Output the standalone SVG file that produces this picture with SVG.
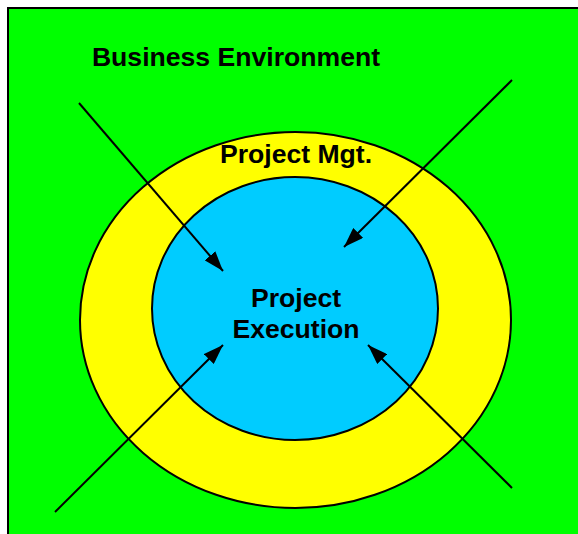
<svg xmlns="http://www.w3.org/2000/svg" width="578" height="534" viewBox="0 0 578 534">
<defs>
<style>
.lbl{font-family:"Liberation Sans",Arial,sans-serif;font-weight:bold;font-size:26.6px;fill:#000;text-anchor:middle}
.conn{stroke:#000;stroke-width:2;fill:none}
</style>
<marker id="ah" viewBox="0 0 20 14" refX="20" refY="7" markerWidth="20" markerHeight="14" markerUnits="userSpaceOnUse" orient="auto">
<path d="M0,0 L20,7 L0,14 Z" fill="#000"/>
</marker>
</defs>
<rect width="578" height="534" fill="#fff"/>
<g id="business-environment">
<rect x="8" y="8" width="580" height="540" fill="#00ff00" stroke="#000" stroke-width="2"/>
<text class="lbl" x="236" y="66">Business Environment</text>
</g>
<g id="project-mgt">
<ellipse cx="295.5" cy="320" rx="215.5" ry="188" fill="#ffff00" stroke="#000" stroke-width="2"/>
<text class="lbl" x="296" y="163">Project Mgt.</text>
</g>
<g id="project-execution">
<ellipse cx="295" cy="308.5" rx="143" ry="131.5" fill="#00ccff" stroke="#000" stroke-width="2"/>
<text class="lbl" x="296" y="307">Project</text>
<text class="lbl" x="296" y="338">Execution</text>
</g>
<g id="connectors">
<line class="conn" x1="79" y1="103" x2="223" y2="271" marker-end="url(#ah)"/>
<line class="conn" x1="512" y1="80" x2="344" y2="247" marker-end="url(#ah)"/>
<line class="conn" x1="55" y1="512" x2="223" y2="345" marker-end="url(#ah)"/>
<line class="conn" x1="512" y1="488" x2="368" y2="345" marker-end="url(#ah)"/>
</g>
</svg>
